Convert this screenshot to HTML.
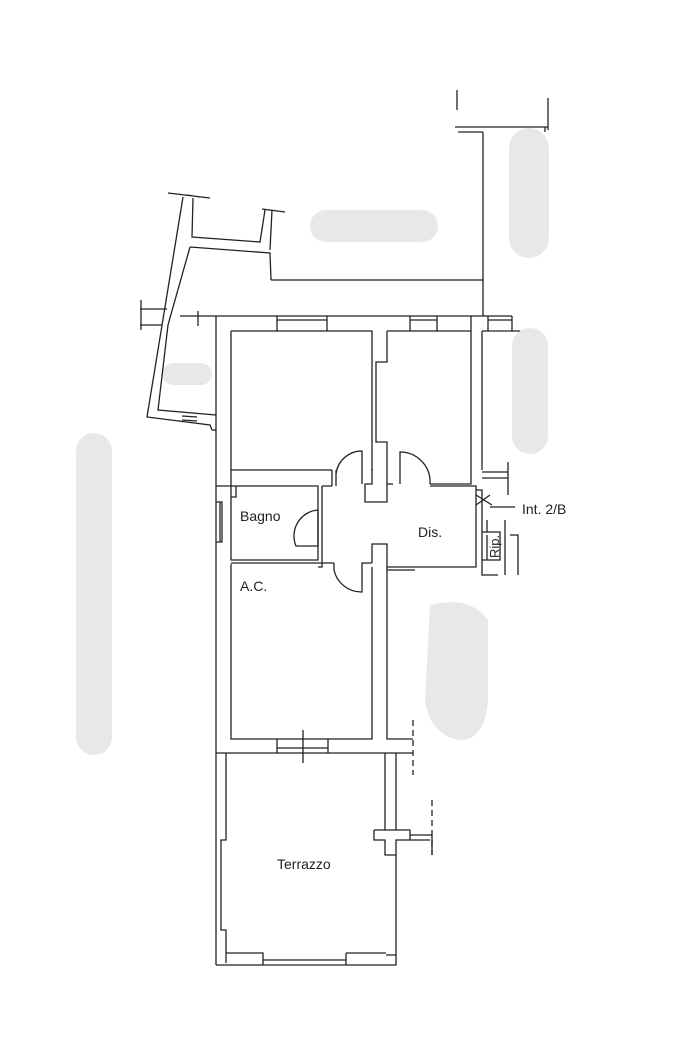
<!DOCTYPE html>
<html><head><meta charset="utf-8"><style>
html,body{margin:0;padding:0;background:#fff}
svg{display:block}
text{font-family:"Liberation Sans",sans-serif;fill:#222}
</style></head><body>
<svg width="699" height="1050" viewBox="0 0 699 1050" xmlns="http://www.w3.org/2000/svg">
<g fill="#e8e8e8">
<rect x="310" y="210" width="128" height="32" rx="16"/>
<rect x="509" y="128" width="40" height="130" rx="20"/>
<rect x="512" y="328" width="36" height="126" rx="18"/>
<rect x="76" y="433" width="36" height="322" rx="18"/>
<path d="M430 605 Q470 595 488 620 L488 700 Q485 740 460 740 Q430 735 425 700 Z"/>
<rect x="162" y="363" width="50" height="22" rx="11"/>
</g>
<g fill="none" stroke="#222" stroke-width="1.3">
<!-- top right building -->
<line x1="483" y1="132" x2="483" y2="316"/>
<line x1="271" y1="280" x2="483" y2="280"/>
<line x1="457" y1="90" x2="457" y2="110"/>
<line x1="548" y1="98" x2="548" y2="130"/>
<path d="M455 127 L548 127 M458 132 L483 132 M545 132 L545 127"/>
<!-- top left annex -->
<path d="M168 193 L210 198 M187 195 L200 197"/>
<path d="M183 197 L147 417 L210 425 L212 430 L216 430"/>
<path d="M193 198 L192 237 L260 242 L265 210"/>
<path d="M262 209 L285 212"/>
<path d="M190 247 L270 253 L271 280 M272 210 L270 250"/>
<path d="M190 247 L168 325 L158 410 L216 415"/>
<path d="M140 309 L167 309 M140 325 L162 325 M141 300 L141 330"/>
<path d="M182 416 L197 417 M182 420 L197 421"/>
<path d="M180 316 L216 316 M198 311 L198 326"/>
<!-- main outer left wall -->
<line x1="216" y1="316" x2="216" y2="965"/>
<line x1="231" y1="331" x2="231" y2="486"/>
<path d="M216 316 L512 316"/>
<!-- top windows -->
<path d="M277 316 L277 331 M327 316 L327 331 M277 320 L327 320 M410 316 L410 331 M437 316 L437 331 M410 320 L437 320 M488 316 L488 331 M512 316 L512 331 M488 320 L512 320"/>
<!-- bedroom 1 -->
<path d="M231 331 L372 331 L372 470 L371 470 M231 470 L332 470"/>
<!-- central wall -->
<path d="M387 331 L387 362 L376 362 L376 442 L387 442 L387 484 M372 470 L372 484 L365 484 L365 502 L372 502 L372 502 L387 502 L387 484 L393 484"/>
<!-- bedroom 2 -->
<path d="M387 331 L471 331 L471 484 L430 484 M482 331 L482 470 M471 316 L471 331 M482 331 L520 331"/>
<path d="M482 472 L508 472 M482 478 L508 478 M508 462 L508 495"/>
<!-- doors bedrooms -->
<path d="M332 470 L332 486 M336 470 L336 486 M336 474 A26 26 0 0 1 362 451 L362 484"/>
<path d="M400 484 L400 452 A30 30 0 0 1 430 484"/>
<!-- bagno -->
<path d="M216 486 L231 486 M231 486 L231 560 L318 560 L318 486 L231 486 M236 486 L236 497 L231 497"/>
<path d="M216 502 L222 502 L222 542 L216 542 M220 502 L220 542"/>
<path d="M322 486 L322 546 M318 510 L318 546 L296 546 A26 26 0 0 1 318 510"/>
<path d="M322 486 L332 486 M430 486 L476 486 L476 567 L387 567 L387 544 L372 544 L372 563"/>
<path d="M322 546 L322 567 L318 567 M231 563 L334 563 M334 563 L334 570 A28 28 0 0 0 362 592 L362 563 L372 563"/>
<!-- Rip & int -->
<path d="M476 490 L482 490 L482 575 L498 575 M482 532 L500 532 L500 560 L482 560 M487 535 L487 560 M505 520 L505 575 M510 535 L518 535 L518 575 M487 520 L487 532"/>
<path d="M476 495 L492 505 M476 505 L490 495 M490 507 L515 507"/>
<!-- A.C. -->
<path d="M231 564 L231 739 L372 739 L372 567 M387 567 L387 739 L413 739 M387 570 L415 570"/>
<line x1="413" y1="720" x2="413" y2="775" stroke-dasharray="6 4"/>
<path d="M216 753 L413 753"/>
<path d="M277 739 L277 753 M328 739 L328 753 M277 748 L328 748 M303 730 L303 763"/>
<!-- terrazzo -->
<path d="M226 753 L226 840 L221 840 L221 930 L226 930 L226 963 M385 753 L385 830 M396 753 L396 830"/>
<path d="M374 830 L410 830 L410 840 L396 840 L396 955 L386 955 M374 830 L374 840 L385 840 L385 855 L396 855"/>
<path d="M410 835 L432 835 L432 855 M410 840 L430 840"/>
<line x1="432" y1="800" x2="432" y2="855" stroke-dasharray="6 4"/>
<path d="M216 965 L396 965 L396 955 M226 953 L263 953 L263 965 M346 953 L346 965 M346 953 L386 953 M263 960 L346 960"/>
</g>
<text x="240" y="521" font-size="14">Bagno</text>
<text x="418" y="537" font-size="14">Dis.</text>
<text x="240" y="591" font-size="14">A.C.</text>
<text x="277" y="869" font-size="14">Terrazzo</text>
<text x="522" y="514" font-size="14">Int. 2/B</text>
<text x="0" y="0" font-size="13" transform="translate(499,558) rotate(-90)">Rip.</text>
</svg>
</body></html>
